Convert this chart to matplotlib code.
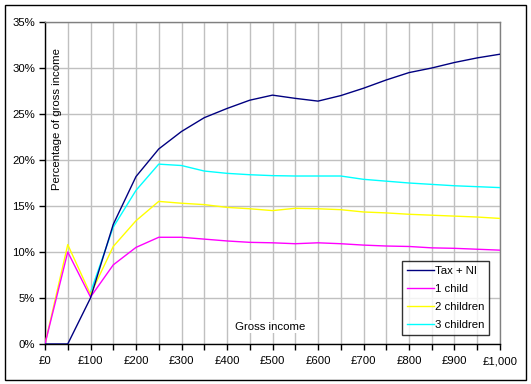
import matplotlib
matplotlib.use("Agg")
import matplotlib.pyplot as plt
from matplotlib.patches import Rectangle
import numpy as np

income = [0, 50, 100, 150, 200, 250, 300, 350, 400, 450, 500,
          550, 600, 650, 700, 750, 800, 850, 900, 950, 1000]
tax_ni = [0.0, 0.0, 5.0, 13.0, 18.2, 21.2, 23.1, 24.6, 25.6, 26.5, 27.05,
          26.7, 26.4, 27.0, 27.8, 28.7, 29.5, 30.0, 30.6, 31.1, 31.5]
one_child = [0.0, 10.0, 5.1, 8.6, 10.5, 11.6, 11.6, 11.4, 11.2, 11.05, 11.0,
             10.9, 11.0, 10.9, 10.75, 10.65, 10.6, 10.45, 10.4, 10.3, 10.2]
two_children = [0.0, 10.8, 5.4, 10.6, 13.4, 15.5, 15.3, 15.15, 14.85, 14.7, 14.5,
                14.75, 14.7, 14.6, 14.35, 14.25, 14.1, 14.0, 13.9, 13.8, 13.65]
three_children = [None, None, 5.6, 12.7, 16.7, 19.55, 19.4, 18.8, 18.55, 18.4, 18.3,
                  18.26, 18.26, 18.26, 17.9, 17.7, 17.5, 17.35, 17.2, 17.1, 17.0]

x_ticks = [0, 100, 200, 300, 400, 500, 600, 700, 800, 900, 1000]
x_labels = ["£0", "£100", "£200", "£300", "£400", "£500", "£600", "£700", "£800", "£900", "£1,000"]
y_ticks = [0, 5, 10, 15, 20, 25, 30, 35]
y_labels = ["0%", "5%", "10%", "15%", "20%", "25%", "30%", "35%"]

plt.rcParams['font.family'] = ['Liberation Sans', 'DejaVu Sans']
FS = 8.2

W, H = 531, 384
fig = plt.figure(figsize=(W / 100, H / 100), dpi=100)
fig.patch.set_facecolor("white")

# outer chart frame
fig.patches.append(Rectangle((4.5 / W, (H - 379.5) / H), (526 - 4.5) / W, (379.5 - 4.5) / H,
                             transform=fig.transFigure, fill=False, edgecolor="black",
                             linewidth=1.0))

ax = fig.add_axes([45 / W, (H - 344) / H, (500 - 45) / W, (344 - 22) / H])
ax.set_xlim(0, 1000)
ax.set_ylim(0, 35)

def arr(v):
    return np.array([np.nan if a is None else a for a in v], dtype=float)

x = np.array(income, dtype=float)
l3, = ax.plot(x, arr(three_children), color="#00FFFF", lw=1.0, zorder=3, label="3 children")
l2, = ax.plot(x, arr(two_children), color="#FFFF00", lw=1.0, zorder=4, label="2 children")
l1, = ax.plot(x, arr(one_child), color="#FF00FF", lw=1.0, zorder=5, label="1 child")
l0, = ax.plot(x, arr(tax_ni), color="#000080", lw=1.0, zorder=6, label="Tax + NI")

ax.set_xticks(x_ticks)
ax.set_xticklabels(x_labels)
ax.set_xticks(np.arange(0, 1001, 50), minor=True)
ax.set_yticks(y_ticks)
ax.set_yticklabels(y_labels)

ax.grid(True, which="both", axis="x", color="#C0C0C0", lw=1.0)
ax.grid(True, which="major", axis="y", color="#C0C0C0", lw=1.0)
ax.set_axisbelow(True)

ax.tick_params(axis="both", which="both", direction="out", length=4, width=1.0,
               labelsize=FS, colors="black")
ax.tick_params(axis="x", which="major", pad=5)
ax.tick_params(axis="y", which="major", pad=3)

for s in ["left", "bottom"]:
    ax.spines[s].set_color("black")
    ax.spines[s].set_linewidth(1.0)
for s in ["top", "right"]:
    ax.spines[s].set_color("#808080")
    ax.spines[s].set_linewidth(1.0)

ax.text(12 / 455, 0.70, "Percentage of gross income", transform=ax.transAxes,
        rotation=90, ha="center", va="center", fontsize=FS)
ax.text(0.495, 0.054, "Gross income", transform=ax.transAxes,
        ha="center", va="center", fontsize=FS,
        bbox=dict(facecolor="white", edgecolor="none", pad=1))

leg = ax.legend(handles=[l0, l1, l2, l3], loc="lower right",
                bbox_to_anchor=(489 / W, (H - 335) / H), bbox_transform=fig.transFigure,
                fontsize=FS, frameon=True, fancybox=False, handlelength=2.4,
                handletextpad=0.1, borderpad=0.4, labelspacing=0.72,
                borderaxespad=0)
leg.get_frame().set_edgecolor("black")
leg.get_frame().set_linewidth(1.0)
leg.set_zorder(10)

fig.savefig("out.png", dpi=100, facecolor="white")
